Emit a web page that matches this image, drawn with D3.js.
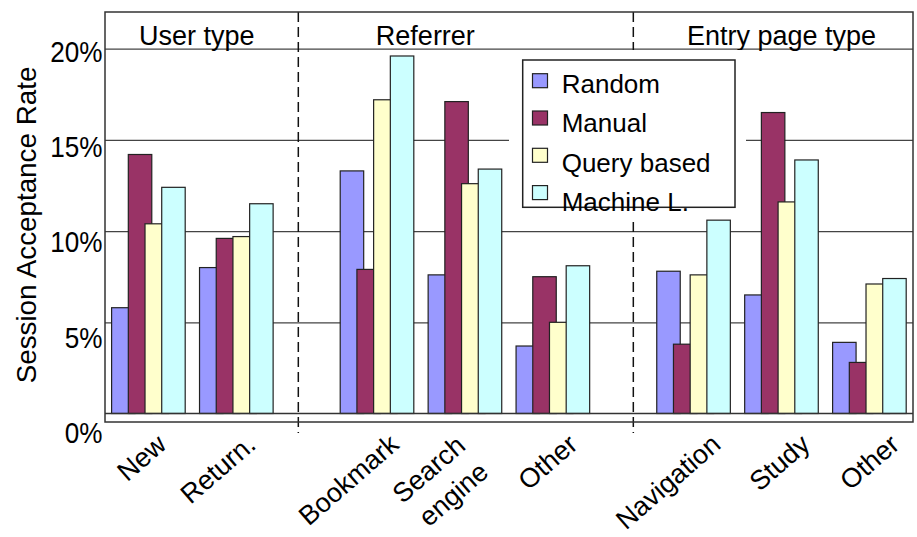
<!DOCTYPE html>
<html>
<head>
<meta charset="utf-8">
<script src="https://cdn.jsdelivr.net/npm/d3@7"></script>
<style>
  body { margin: 0; background: #fff; }
  svg text { font-family: "Liberation Sans", Arial, sans-serif; fill: #000; }
</style>
</head>
<body>
<svg id="chart" width="917" height="537"></svg>
<script>
// categories on the x axis and the section each one belongs to
var categories = ["New", "Return.", "Bookmark", "Search\nengine", "Other", "Navigation", "Study", "Other"];
var categoryGroup = [0, 0, 1, 1, 1, 2, 2, 2];
var groupTitles = ["User type", "Referrer", "Entry page type"];

// session acceptance rate (%) per category
var seriesNames = ["Random", "Manual", "Query based", "Machine L."];
var random     = [5.8, 8.0, 13.3, 7.6, 3.7, 7.8, 6.5, 3.9];
var manual     = [14.2, 9.6, 7.9, 17.1, 7.5, 3.8, 16.5, 2.8];
var queryBased = [10.4, 9.7, 17.2, 12.6, 5.0, 7.6, 11.6, 7.1];
var machineL   = [12.4, 11.5, 19.6, 13.4, 8.1, 10.6, 13.9, 7.4];

var yTicks = [0, 5, 10, 15, 20];

var series = [random, manual, queryBased, machineL];
var colors = ["#9999ff", "#993366", "#ffffcc", "#ccffff"];

var svg = d3.select("#chart");
var frame = {left: 105, right: 913, top: 12, bottom: 422};

// Scales
var y = d3.scaleLinear().domain([0, 20]).range([413.5, 48.7]);
// the tick labels sit on a slightly looser scale than the gridlines
var yLabel = d3.scaleLinear().domain([0, 20]).range([432, 50.5]);

// one step per category, plus 0.6 step between sections
var slots = categories.map((c, i) => i + 0.6 * categoryGroup[i]);
var x = d3.scaleLinear().domain([0, 8.2]).range([148.4, 869.4]);
var xLabel = d3.scaleLinear().domain([0, 8.2]).range([168, 901]);
var step = x(1) - x(0);
var barOffset = step * 0.19;
var barWidth = step * 0.267;
var groupWidth = 3 * barOffset + barWidth;

// Gridlines
var grid = svg.append("g")
    .attr("transform", "translate(" + frame.left + ",0)")
    .call(d3.axisLeft(y).tickValues([5, 10, 15, 20]).tickSize(-(frame.right - frame.left)).tickFormat(""));
grid.select(".domain").remove();
grid.selectAll("line").attr("stroke", "#444").attr("stroke-width", 1.2);

// Section separators
var sepSlots = [1.705, 5.515];
svg.append("g").selectAll("line").data(sepSlots).join("line")
    .attr("x1", d => x(d)).attr("x2", d => x(d))
    .attr("y1", frame.top).attr("y2", 433)
    .attr("stroke", "#111").attr("stroke-width", 1.5)
    .attr("stroke-dasharray", "10,5");

// Bars
var barData = [];
series.forEach((vals, s) => vals.forEach((v, i) => barData.push({s: s, i: i, v: v})));
svg.append("g").selectAll("rect").data(barData).join("rect")
    .attr("x", d => x(slots[d.i]) - groupWidth / 2 + d.s * barOffset)
    .attr("width", barWidth)
    .attr("y", d => y(d.v))
    .attr("height", d => y(0) - y(d.v))
    .attr("fill", d => colors[d.s])
    .attr("stroke", "#222").attr("stroke-width", 1.2);

// Frame and baseline
svg.append("rect")
    .attr("x", frame.left).attr("y", frame.top)
    .attr("width", frame.right - frame.left).attr("height", frame.bottom - frame.top)
    .attr("fill", "none").attr("stroke", "#333").attr("stroke-width", 1.5);
svg.append("line")
    .attr("x1", frame.left).attr("x2", frame.right)
    .attr("y1", y(0)).attr("y2", y(0))
    .attr("stroke", "#333").attr("stroke-width", 1.3);

// Y axis labels
var yAxis = svg.append("g")
    .attr("transform", "translate(" + frame.left + ",0)")
    .call(d3.axisLeft(yLabel).tickValues(yTicks).tickFormat(d => d + "%").tickSize(0).tickPadding(3));
yAxis.select(".domain").remove();
yAxis.selectAll("text")
    .style("font-size", "30px")
    .attr("dy", "0.35em")
    .attr("transform", "scale(0.87,1)");

svg.append("text")
    .attr("transform", "translate(36,225) rotate(-90) scale(1.03,1)")
    .attr("text-anchor", "middle")
    .style("font-size", "27px")
    .text("Session Acceptance Rate");

// X labels, rotated
var labels = svg.append("g").selectAll("text").data(categories).join("text")
    .attr("transform", (d, i) => "translate(" + xLabel(slots[i]) + ",447) rotate(-41)")
    .attr("text-anchor", "end")
    .style("font-size", "27px");
labels.each(function(d) {
    var lines = d.split("\n");
    var n = lines.length;
    d3.select(this).selectAll("tspan").data(lines).join("tspan")
        .attr("x", -(n - 1) * 18)
        .attr("y", (l, j) => -(n - 1) * 14 + j * 35)
        .text(l => l);
});

// Section titles
var titleSlots = [0.55, 3.15, 7.2];
svg.append("g").selectAll("text").data(groupTitles).join("text")
    .attr("x", (d, i) => x(titleSlots[i]))
    .attr("y", 45)
    .attr("text-anchor", "middle")
    .style("font-size", "27px")
    .text(d => d);

// Legend
var legend = svg.append("g");
legend.append("rect")
    .attr("x", 509).attr("y", 50).attr("width", 237).attr("height", 167)
    .attr("fill", "#fff");
legend.append("rect")
    .attr("x", 522.7).attr("y", 60).attr("width", 212.3).attr("height", 147.3)
    .attr("fill", "none").attr("stroke", "#222").attr("stroke-width", 1.5);
legend.selectAll(".key").data(seriesNames).join("rect")
    .attr("class", "key")
    .attr("x", 532.5).attr("y", (d, i) => 73.7 + i * 37.3)
    .attr("width", 15).attr("height", 14)
    .attr("fill", (d, i) => colors[i])
    .attr("stroke", "#222").attr("stroke-width", 1.2);
legend.selectAll(".name").data(seriesNames).join("text")
    .attr("class", "name")
    .attr("x", 561.7).attr("y", (d, i) => 92.5 + i * 39.6)
    .style("font-size", "26px")
    .text(d => d);
</script>
</body>
</html>
